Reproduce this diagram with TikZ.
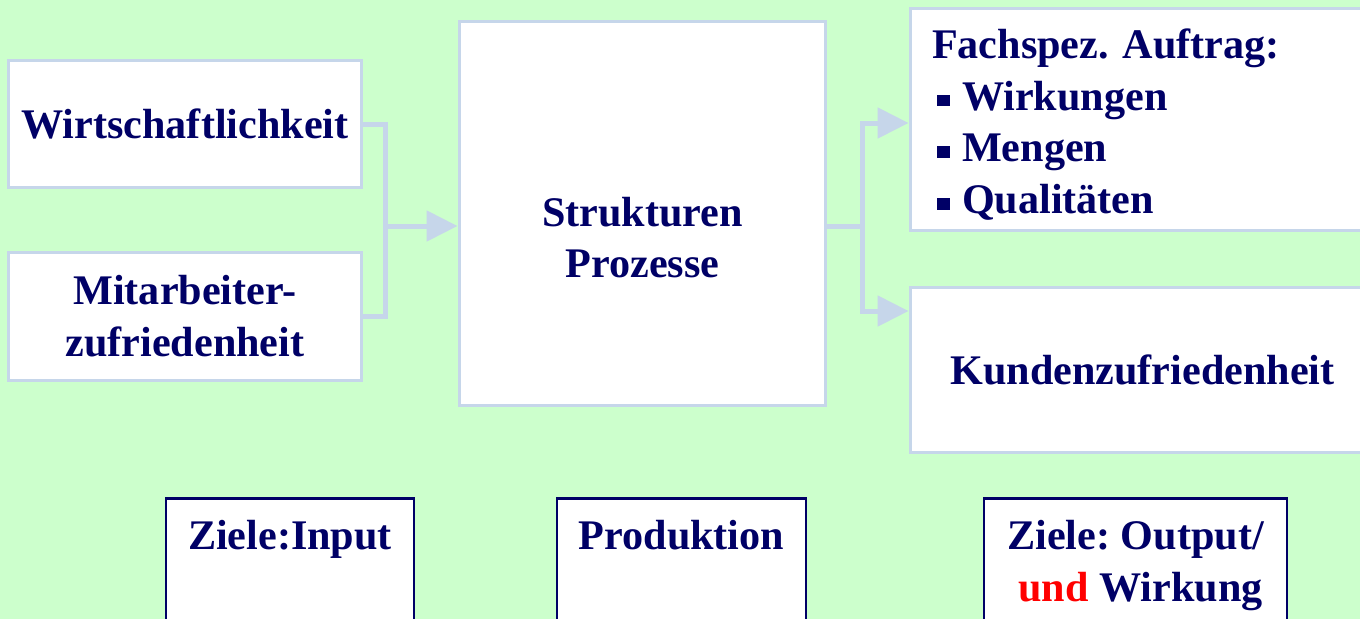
\documentclass[tikz,border=0pt]{standalone}
\usepackage{fontspec}
\setmainfont{Liberation Serif}
\usetikzlibrary{arrows.meta,calc}
\definecolor{zgreen}{RGB}{204,255,204}
\definecolor{zline}{RGB}{198,214,234}
\definecolor{znavy}{RGB}{0,0,102}
\definecolor{zred}{RGB}{255,0,0}
\newcommand{\sqbullet}{\hspace*{0.1cm}\rule[0.08cm]{0.25cm}{0.23cm}\hspace{0.25cm}}
\frenchspacing

\begin{document}
\begin{tikzpicture}[
  x=0.02cm, y=-0.02cm,
  font=\fontsize{24}{29.5}\selectfont\bfseries,
  box/.style={rectangle, draw=zline, line width=0.06cm, fill=white,
    text=znavy, align=center, inner sep=0pt},
  goal/.style={rectangle, draw=znavy, line width=0.05cm, fill=white,
    text=znavy, align=center, anchor=north, inner xsep=0pt,
    inner ysep=0.44cm, text depth=3cm},
  conn/.style={draw=zline, line width=0.1cm},
  arr/.style={conn, -{Triangle[length=0.62cm, width=0.6cm]}}
]
\clip (0,0) rectangle (1360,619);
\fill[zgreen] (0,0) rectangle (1360,619);

% inputs
\node[box, minimum width=7.08cm, minimum height=2.56cm] (wirt) at (185,124) {Wirtschaftlichkeit};
\node[box, minimum width=7.08cm, minimum height=2.58cm] (mit) at (185,316.5) {Mitarbeiter-\\zufriedenheit};

% production
\node[box, minimum width=7.34cm, minimum height=7.7cm] (struk) at (642.5,213.5) {};
\node[text=znavy, align=center] (struktxt) at ([yshift=-0.48cm]struk.center) {Strukturen\\Prozesse};

% outputs
\node[box, minimum width=9.3cm, minimum height=4.46cm, text width=8.42cm, align=left]
  (fach) at (1142.5,119.5) {\rule{0pt}{0.8cm}Fachspez. Auftrag:\\\sqbullet Wirkungen\\\sqbullet Mengen\\\sqbullet Qualitäten};
\node[box, minimum width=9.3cm, minimum height=3.32cm] (kund) at (1142.5,370) {Kundenzufriedenheit};

% goals
\node[goal, minimum width=4.96cm] (zin) at (290,497) {Ziele:Input};
\node[goal, minimum width=4.98cm] (prod) at (681.5,497) {Produktion};
\node[goal, minimum width=6.06cm] (zout) at (1135.5,497) {Ziele: Output/\\\hspace{0.2cm}\textcolor{zred}{und} Wirkung};

% connectors
\coordinate (jl) at (385,226);
\coordinate (jr) at (862,226);
\draw[conn] (wirt.east) -| (jl) |- (mit.east);
\draw[arr] (jl) -- (jl -| struk.west);
\draw[conn] (jr -| struk.east) -- (jr);
\draw[arr] (jr) |- ([yshift=-0.07cm]fach.west);
\draw[arr] (jr) |- ([yshift=1.18cm]kund.west);
\end{tikzpicture}
\end{document}
